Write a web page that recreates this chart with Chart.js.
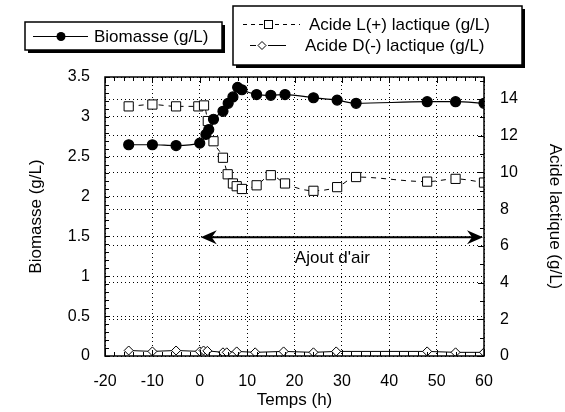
<!DOCTYPE html>
<html>
<head>
<meta charset="utf-8">
<script src="https://cdn.jsdelivr.net/npm/chart.js@4.4.1/dist/chart.umd.min.js"></script>
<style>
  html, body { margin: 0; padding: 0; background: #fff; }
  #wrap { width: 565px; height: 412px; }
</style>
</head>
<body>
<div id="wrap"><canvas id="chart" width="565" height="412"></canvas></div>
<script>
// temps (h) et valeurs
const tempsBiomasse = [-15, -10, -5, 0, 1.3, 1.9, 2.9, 4.9, 6, 7, 8, 8.9, 12, 15, 18, 24, 29, 33, 48, 54, 60];
const biomasse = [2.65, 2.65, 2.64, 2.67, 2.78, 2.84, 2.97, 3.07, 3.17, 3.25, 3.37, 3.34, 3.28, 3.27, 3.28, 3.24, 3.21, 3.17, 3.19, 3.19, 3.17];

const tempsAcideL = [-15, -10, -5, -0.3, 0.9, 1.7, 2.9, 4.9, 5.9, 7, 7.8, 8.9, 12, 15, 18, 24, 29, 33, 48, 54, 60];
const acideL = [13.6, 13.7, 13.6, 13.6, 13.65, 12.8, 11.7, 10.8, 9.9, 9.4, 9.25, 9.1, 9.3, 9.85, 9.4, 9.0, 9.2, 9.75, 9.5, 9.65, 9.45];

const tempsAcideD = [-15, -10, -5, 0, 0.8, 1.6, 4.9, 5.7, 7.8, 11.7, 17.7, 24, 28.8, 48, 54, 60];
const acideD = [0.3, 0.25, 0.3, 0.25, 0.3, 0.28, 0.2, 0.2, 0.25, 0.2, 0.25, 0.2, 0.25, 0.25, 0.2, 0.2];

const ticksTemps = [-20, -10, 0, 10, 20, 30, 40, 50, 60];
const ticksBiomasse = [0, 0.5, 1, 1.5, 2, 2.5, 3, 3.5];
const ticksAcide = [0, 2, 4, 6, 8, 10, 12, 14];

// fleche "Ajout d'air" (en unites des axes)
const ajoutAir = { debut: 0, fin: 60, niveau: 1.49, texte: "Ajout d'air", texteX: 28, texteY: 1.22 };

const FONT = "'Liberation Sans', Arial, sans-serif";
const toPoints = (xs, ys) => xs.map((x, i) => ({ x: x, y: ys[i] }));

// pointe de fleche pleine, un peu echancree
function pointe(ctx, x, y, dir) {
  ctx.beginPath();
  ctx.moveTo(x, y);
  ctx.lineTo(x + dir * 16, y - 7);
  ctx.lineTo(x + dir * 11, y);
  ctx.lineTo(x + dir * 16, y + 7);
  ctx.closePath();
  ctx.fill();
}

// cadre, petites graduations, fleche et legendes
const decor = {
  id: 'decor',
  afterDraw(chart) {
    const ctx = chart.ctx;
    const a = chart.chartArea;
    const sx = chart.scales.x, sy = chart.scales.y, sy2 = chart.scales.y2;
    ctx.save();
    ctx.strokeStyle = '#000';
    ctx.fillStyle = '#000';

    // petites graduations
    ctx.lineWidth = 1;
    ctx.beginPath();
    for (let v = 0; v <= 3.5001; v += 0.1) {
      const y = Math.round(sy.getPixelForValue(v)) + 0.5;
      ctx.moveTo(a.left, y); ctx.lineTo(a.left + 4, y);
    }
    for (let v = 0; v <= 15; v += 1) {
      const y = Math.round(sy2.getPixelForValue(v)) + 0.5;
      ctx.moveTo(a.right, y); ctx.lineTo(a.right - (v % 2 === 0 ? 6 : 4), y);
    }
    for (let v = -20; v <= 60; v += 2) {
      const x = Math.round(sx.getPixelForValue(v)) + 0.5;
      const l = v % 10 === 0 ? 6 : 4;
      ctx.moveTo(x, a.bottom); ctx.lineTo(x, a.bottom - l);
      ctx.moveTo(x, a.top); ctx.lineTo(x, a.top + l);
    }
    ctx.stroke();

    // cadre
    ctx.lineWidth = 1.5;
    ctx.strokeRect(a.left, a.top, a.right - a.left, a.bottom - a.top);

    // fleche double
    const x0 = sx.getPixelForValue(ajoutAir.debut);
    const x1 = sx.getPixelForValue(ajoutAir.fin);
    const yf = sy.getPixelForValue(ajoutAir.niveau);
    ctx.lineWidth = 2;
    ctx.beginPath();
    ctx.moveTo(x0 + 8, yf); ctx.lineTo(x1 - 8, yf);
    ctx.stroke();
    pointe(ctx, x0 + 1, yf, 1);
    pointe(ctx, x1 - 1, yf, -1);
    ctx.font = '17px ' + FONT;
    ctx.textAlign = 'center';
    ctx.textBaseline = 'middle';
    ctx.fillText(ajoutAir.texte, sx.getPixelForValue(ajoutAir.texteX), sy.getPixelForValue(ajoutAir.texteY));

    // legendes
    const boite = (x, y, w, h) => {
      ctx.fillStyle = '#000';
      ctx.fillRect(x + 3, y + 3, w, h);
      ctx.fillStyle = '#fff';
      ctx.fillRect(x, y, w, h);
      ctx.lineWidth = 1.5;
      ctx.strokeRect(x, y, w, h);
      ctx.fillStyle = '#000';
    };
    ctx.textAlign = 'left';
    ctx.font = '17px ' + FONT;

    boite(25, 22, 197, 28);
    ctx.lineWidth = 1;
    ctx.beginPath(); ctx.moveTo(33, 36.5); ctx.lineTo(88, 36.5); ctx.stroke();
    ctx.beginPath(); ctx.arc(61, 36.5, 4.5, 0, Math.PI * 2); ctx.fill();
    ctx.fillText('Biomasse (g/L)', 94, 37);

    boite(233, 6, 289, 59);
    ctx.lineWidth = 1;
    ctx.setLineDash([4, 4]);
    ctx.beginPath(); ctx.moveTo(243, 24.5); ctx.lineTo(300, 24.5); ctx.stroke();
    ctx.setLineDash([]);
    ctx.fillStyle = '#fff';
    ctx.fillRect(264, 20.5, 8, 8);
    ctx.strokeRect(264.5, 20.5, 8, 8);
    ctx.fillStyle = '#000';
    ctx.fillText('Acide L(+) lactique (g/L)', 309, 25);

    ctx.beginPath(); ctx.moveTo(250, 45.5); ctx.lineTo(256, 45.5); ctx.moveTo(268, 45.5); ctx.lineTo(286, 45.5); ctx.stroke();
    ctx.fillStyle = '#fff';
    ctx.beginPath();
    ctx.moveTo(262, 41.5); ctx.lineTo(266, 45.5); ctx.lineTo(262, 49.5); ctx.lineTo(258, 45.5); ctx.closePath();
    ctx.fill(); ctx.stroke();
    ctx.fillStyle = '#000';
    ctx.fillText('Acide D(-) lactique (g/L)', 305, 46);

    ctx.restore();
  }
};

const grilleCommune = {
  color: '#000',
  lineWidth: 1,
  drawTicks: false
};
const policeTicks = { family: FONT, size: 16 };
const policeTitre = { family: FONT, size: 17 };

new Chart(document.getElementById('chart'), {
  type: 'line',
  data: {
    datasets: [
      {
        label: 'Biomasse (g/L)',
        data: toPoints(tempsBiomasse, biomasse),
        yAxisID: 'y',
        borderColor: '#000',
        backgroundColor: '#000',
        borderWidth: 1.2,
        pointStyle: 'circle',
        pointRadius: 5,
        pointBackgroundColor: '#000',
        cubicInterpolationMode: 'monotone'
      },
      {
        label: 'Acide L(+) lactique (g/L)',
        data: toPoints(tempsAcideL, acideL),
        yAxisID: 'y2',
        borderColor: '#000',
        borderWidth: 1,
        borderDash: [5, 5],
        pointStyle: 'rect',
        pointRadius: 6.5,
        pointBackgroundColor: '#fff',
        pointBorderColor: '#000',
        pointBorderWidth: 1,
        cubicInterpolationMode: 'monotone'
      },
      {
        label: 'Acide D(-) lactique (g/L)',
        data: toPoints(tempsAcideD, acideD),
        yAxisID: 'y2',
        borderColor: '#000',
        borderWidth: 1,
        pointStyle: 'rectRot',
        pointRadius: 4.5,
        pointBackgroundColor: '#fff',
        pointBorderColor: '#000',
        pointBorderWidth: 1
      }
    ]
  },
  options: {
    responsive: false,
    animation: false,
    devicePixelRatio: 1,
    layout: { padding: { top: 77, left: 0, right: 0, bottom: 0 } },
    plugins: {
      legend: { display: false },
      tooltip: { enabled: false }
    },
    scales: {
      x: {
        type: 'linear',
        min: -20,
        max: 60,
        afterBuildTicks: (s) => { s.ticks = ticksTemps.map(v => ({ value: v })); },
        afterFit: (s) => { s.height = 56; },
        ticks: { color: '#000', font: policeTicks, padding: 16, maxRotation: 0, callback: v => String(v) },
        grid: grilleCommune,
        border: { display: false, dash: [1, 3] },
        title: { display: true, text: 'Temps (h)', color: '#000', font: policeTitre, padding: { top: 0, bottom: 1 } }
      },
      y: {
        position: 'left',
        min: 0,
        max: 3.5,
        afterBuildTicks: (s) => { s.ticks = ticksBiomasse.map(v => ({ value: v })); },
        afterFit: (s) => { s.width = 105; },
        ticks: { color: '#000', font: policeTicks, padding: 15, callback: v => String(v) },
        grid: grilleCommune,
        border: { display: false, dash: [1, 3] },
        title: { display: true, text: 'Biomasse (g/L)', color: '#000', font: policeTitre, padding: { top: 26, bottom: 0 } }
      },
      y2: {
        position: 'right',
        min: 0,
        max: 15.2,
        afterBuildTicks: (s) => { s.ticks = ticksAcide.map(v => ({ value: v })); },
        afterFit: (s) => { s.width = 81; },
        ticks: { color: '#000', font: policeTicks, padding: 16, callback: v => String(v) },
        grid: grilleCommune,
        border: { display: false, dash: [1, 3] },
        title: { display: true, text: 'Acide lactique (g/L)', color: '#000', font: policeTitre, padding: { top: 0, bottom: 0 } }
      }
    }
  },
  plugins: [decor]
});
</script>
</body>
</html>
